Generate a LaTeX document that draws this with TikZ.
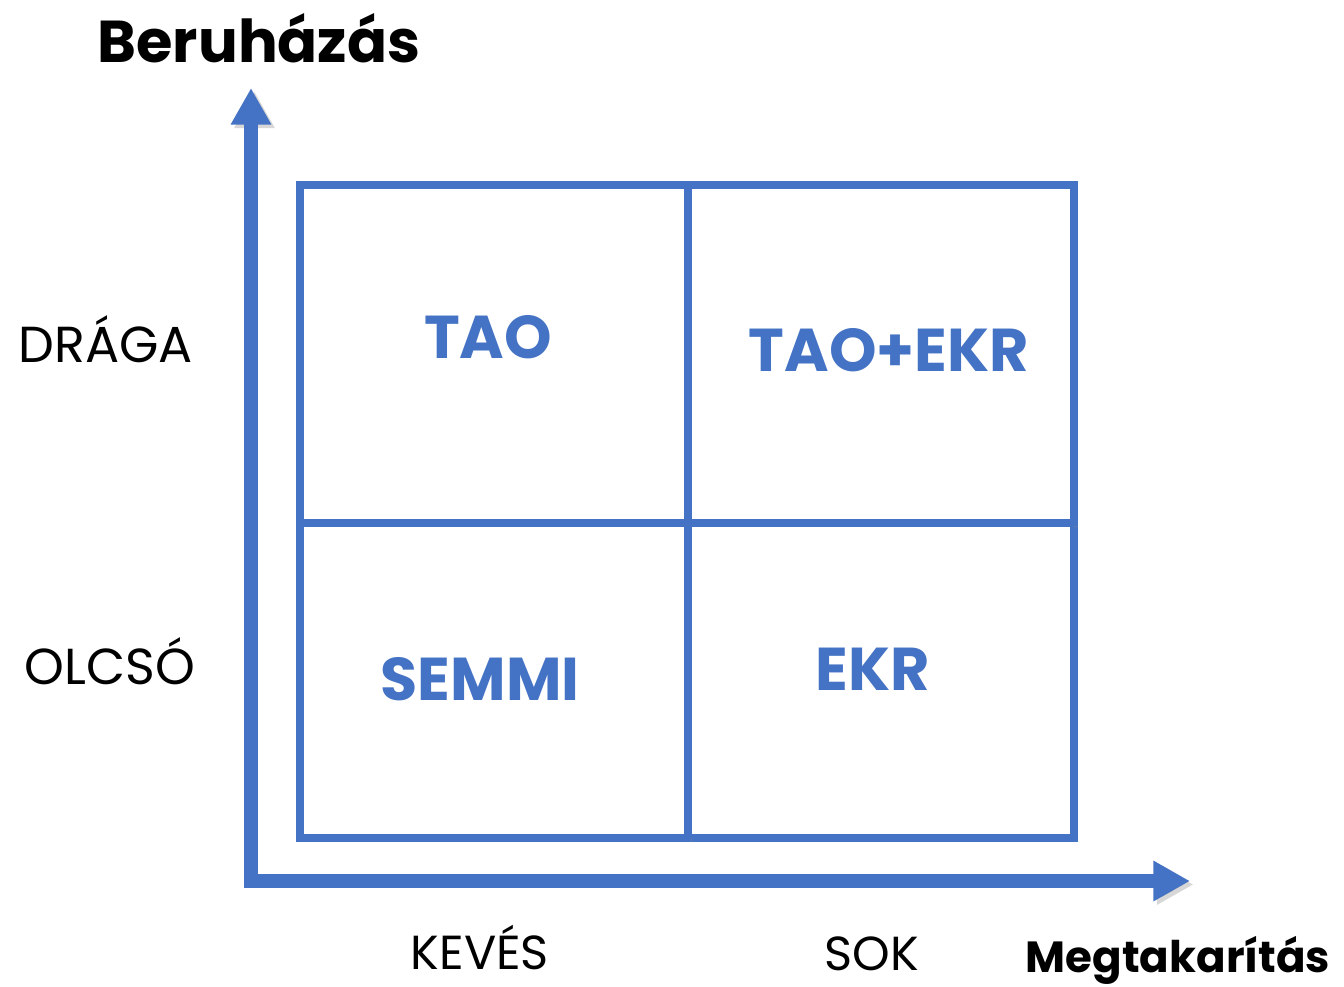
\documentclass[tikz,border=0pt]{standalone}
\usepackage{fontspec}
\setmainfont{Poppins}
\usetikzlibrary{arrows.meta}
\definecolor{quadblue}{HTML}{4472C4}

\begin{document}
\begin{tikzpicture}[x=0.025cm,y=-0.025cm,
    shade/.style={preaction={draw=black!45,opacity=.35,transform canvas={shift={(2.5pt,-2.5pt)}}}},
    axis/.style={quadblue,line width=10pt,line join=miter,shade,
      {Triangle[length=26pt,width=27pt]}-{Triangle[length=26pt,width=27pt]}},
    grid/.style={quadblue,line width=5.5pt,shade},
    quad/.style={anchor=base,inner sep=0pt,text=quadblue,font=\fontsize{43}{48}\selectfont\bfseries},
    level/.style={anchor=base,inner sep=0pt,font=\fontsize{36}{40}\selectfont},
    title/.style={anchor=base,inner sep=0pt,font=\fontsize{42}{48}\selectfont\bfseries}]
    \useasboundingbox (0,0) rectangle (1344,987);
    % axes
    \coordinate (O) at (251,881);
    \coordinate (ytip) at (251,88);
    \coordinate (xtip) at (1190,881);
    \draw[axis] (ytip) -- (O) -- (xtip);
    % quadrant grid
    \coordinate (nw) at (300,185);
    \coordinate (se) at (1074,838);
    \coordinate (n) at (688,185);
    \coordinate (s) at (688,838);
    \coordinate (w) at (300,523);
    \coordinate (e) at (1074,523);
    \draw[grid] (nw) rectangle (se);
    \draw[grid] (n) -- (s);
    \draw[grid] (w) -- (e);
    % quadrant labels
    \node[quad] (tao)    at (488,358) {TAO};
    \node[quad] (taoekr) at (889,371) {TAO+EKR};
    \node[quad] (semmi)  at (480,700) {SEMMI};
    \node[quad] (ekr)    at (873,690) {EKR};
    % axis labels
    \node[title] (beruhazas) at (259,62) {Beruházás};
    \node[level] (draga) at (106,362) {DRÁGA};
    \node[level] (olcso) at (110,684) {OLCSÓ};
    \node[level,font=\fontsize{34}{38}\selectfont] (keves) at (480,969) {KEVÉS};
    \node[level,font=\fontsize{34}{38}\selectfont] (sok)   at (872,970) {SOK};
    \node[title,font=\fontsize{31}{36}\selectfont\bfseries] (megtakaritas) at (1178,972) {Megtakarítás};
\end{tikzpicture}
\end{document}
